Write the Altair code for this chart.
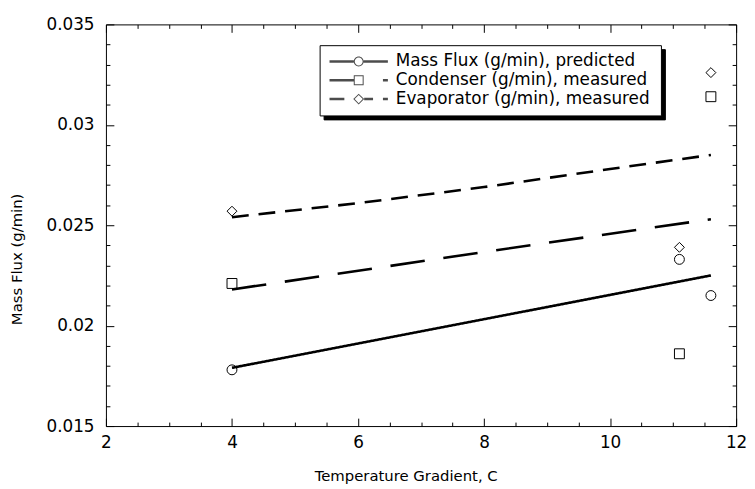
import altair as alt
import pandas as pd

# ---------------- data ----------------
SERIES = [
    "Mass Flux (g/min), predicted",
    "Condenser (g/min), measured",
    "Evaporator (g/min), measured",
]
SHAPES = ["circle", "square", "diamond"]

pred_line_x = [4.0, 11.6]
pred_line_y = [0.0179, 0.0225]
cond_line_x = [4.0, 8.0, 11.6]
cond_line_y = [0.0218, 0.02367, 0.0253]
evap_line_x = [4.0, 6.0, 8.0, 10.0, 11.6]
evap_line_y = [0.0254, 0.0261, 0.0269, 0.0278, 0.0285]

point_x = [4.0, 11.1, 11.6]
pred_pts_y = [0.0178, 0.0233, 0.0215]
cond_pts_y = [0.0221, 0.0186, 0.0314]
evap_pts_y = [0.0257, 0.0239, 0.0326]

X_MAJOR = [2, 4, 6, 8, 10, 12]
X_MINOR = [2.5, 3, 3.5, 4.5, 5, 5.5, 6.5, 7, 7.5, 8.5, 9, 9.5, 10.5, 11, 11.5]
Y_MAJOR = [0.015, 0.02, 0.025, 0.03, 0.035]
Y_MINOR = [0.016, 0.017, 0.018, 0.019, 0.021, 0.022, 0.023, 0.024,
           0.026, 0.027, 0.028, 0.029, 0.031, 0.032, 0.033, 0.034]
X_TITLE = "Temperature Gradient, C"
Y_TITLE = "Mass Flux (g/min)"

line_sets = [(pred_line_x, pred_line_y), (cond_line_x, cond_line_y), (evap_line_x, evap_line_y)]
pt_sets = [pred_pts_y, cond_pts_y, evap_pts_y]

lines_df = pd.DataFrame(
    [{"series": s, "x": x, "y": y}
     for s, (xs, ys) in zip(SERIES, line_sets) for x, y in zip(xs, ys)]
)
points_df = pd.DataFrame(
    [{"series": s, "shape": sh, "x": x, "y": y}
     for s, sh, ys in zip(SERIES, SHAPES, pt_sets) for x, y in zip(point_x, ys)]
)

# ---------------- style ----------------
W, H = 637, 406
FONT = "DejaVu Sans"
DASHES = [[1, 0], [35, 19], [17, 10]]

# legend symbols: line sample + open marker, drawn as filled outlines.
# Degenerate anchor segments fix the legend content width.
ANCHORS = "M-31.5,0L-31.5,0 M297.5,0L297.5,0 "
P_CIRCLE = (ANCHORS + "M-29.5,-1.25H-5V1.25H-29.5Z M5,-1.25H29.5V1.25H5Z "
            "M5,0A5,5,0,1,1,-5,0A5,5,0,1,1,5,0Z M4,0A4,4,0,1,0,-4,0A4,4,0,1,0,4,0Z")
P_SQUARE = (ANCHORS + "M-29.5,-1.25H-5V1.25H-29.5Z M24.5,-1.25H29.5V1.25H24.5Z "
            "M-5,-5H5V5H-5Z M-4,-4V4H4V-4Z")
P_DIAMOND = (ANCHORS + "M-29.5,-1.25H-14.5V1.25H-29.5Z M5.5,-1.25H14.5V1.25H5.5Z "
             "M24.5,-1.25H29.5V1.25H24.5Z "
             "M0,-5.5L5.5,0L0,5.5L-5.5,0Z M0,-4.1L-4.1,0L0,4.1L4.1,0Z")
PATHS = [P_CIRCLE, P_SQUARE, P_DIAMOND]

x_scale = alt.Scale(domain=[2, 12], nice=False, zero=False)
y_scale = alt.Scale(domain=[0.015, 0.035], nice=False, zero=False)


def tick_axis(orient, offset, values, size):
    return alt.Axis(orient=orient, offset=offset, values=values, labels=False,
                    domain=False, grid=False, ticks=True, tickSize=size,
                    tickColor="black", tickWidth=1, title=None)


x_label_axis = alt.Axis(
    orient="bottom", values=X_MAJOR, format="~g", labelFlush=False,
    ticks=False, tickSize=0, domain=False, grid=False,
    labelFont=FONT, labelFontSize=17, labelColor="black", labelPadding=9,
    title=X_TITLE, titleFont=FONT, titleFontSize=15, titleFontWeight="normal",
    titleColor="black", titleX=303, titleY=50, titleAlign="center",
    titleBaseline="middle",
)
y_label_axis = alt.Axis(
    orient="left", values=Y_MAJOR, format="~g", labelFlush=False,
    ticks=False, tickSize=0, domain=False, grid=False,
    labelFont=FONT, labelFontSize=17, labelColor="black", labelPadding=12,
    title=Y_TITLE, titleFont=FONT, titleFontSize=15, titleFontWeight="normal",
    titleColor="black", titleX=-90, titleY=237, titleAngle=270,
    titleAlign="center", titleBaseline="middle",
)

lines_layer = alt.Chart(lines_df).mark_line(color="black", strokeWidth=2.6).encode(
    x=alt.X("x:Q", scale=x_scale, axis=x_label_axis),
    y=alt.Y("y:Q", scale=y_scale, axis=y_label_axis),
    strokeDash=alt.StrokeDash("series:N", scale=alt.Scale(domain=SERIES, range=DASHES), legend=None),
)

points_layer = alt.Chart(points_df).mark_point(
    filled=False, color="black", strokeWidth=1, size=100, opacity=1
).encode(
    x=alt.X("x:Q", scale=x_scale, axis=tick_axis("top", -H, X_MAJOR, 8)),
    y=alt.Y("y:Q", scale=y_scale, axis=tick_axis("right", -W, Y_MAJOR, 8)),
    shape=alt.Shape("shape:N", scale=None),
)


def axis_layer(xa, ya):
    return alt.Chart(points_df).mark_point(opacity=0).encode(
        x=alt.X("x:Q", scale=x_scale, axis=xa),
        y=alt.Y("y:Q", scale=y_scale, axis=ya),
    )


t_minor_in = axis_layer(tick_axis("top", -H, X_MINOR, 4), tick_axis("right", -W, Y_MINOR, 4))
t_major_out = axis_layer(tick_axis("bottom", -H, X_MAJOR, 8), tick_axis("left", -W, Y_MAJOR, 8))
t_minor_out = axis_layer(tick_axis("bottom", -H, X_MINOR, 4), tick_axis("left", -W, Y_MINOR, 4))

legend_common = dict(
    orient="none", title=None, padding=8, rowPadding=1,
    labelFont=FONT, labelFontSize=17, labelLimit=260, labelColor="black",
    labelOffset=29, symbolOffset=23, symbolSize=4, symbolStrokeWidth=0,
)

legend_layer = alt.Chart(points_df).transform_filter("false").mark_point(
    filled=True, color="black", size=4, strokeWidth=0
).encode(
    x=alt.X("x:Q", scale=x_scale, axis=None),
    y=alt.Y("y:Q", scale=y_scale, axis=None),
    shape=alt.Shape(
        "series:N", scale=alt.Scale(domain=SERIES, range=PATHS),
        legend=alt.Legend(legendX=216, legendY=21, fillColor="white",
                          strokeColor="black", symbolFillColor="black",
                          zindex=2, **legend_common),
    ),
)

# drop shadow of the legend box: same geometry, black, no label text
shadow_layer = alt.Chart(points_df).transform_filter("false").mark_point(
    filled=True, size=4, strokeWidth=0, color="black"
).encode(
    x=alt.X("x:Q", scale=x_scale, axis=None),
    y=alt.Y("y:Q", scale=y_scale, axis=None),
    fill=alt.Fill(
        "series:N", scale=alt.Scale(domain=SERIES[::-1], range=["black"] * 3),
        legend=alt.Legend(legendX=220, legendY=25, fillColor="black",
                          strokeColor="black", symbolType=P_CIRCLE,
                          symbolFillColor="black", labelExpr="''",
                          zindex=1, **legend_common),
    ),
)

chart = alt.layer(
    shadow_layer, legend_layer, lines_layer, points_layer,
    t_minor_in, t_major_out, t_minor_out,
).resolve_axis(
    x="independent", y="independent"
).resolve_scale(
    shape="independent", fill="independent"
).properties(
    width=W, height=H,
    padding={"left": 99, "top": 14, "right": 11, "bottom": 58},
    autosize=alt.AutoSizeParams(type="none"),
    background="white",
).configure_view(
    stroke="black", strokeWidth=1
)

chart.save("out.html", embed_options={"renderer": "svg", "actions": False})
